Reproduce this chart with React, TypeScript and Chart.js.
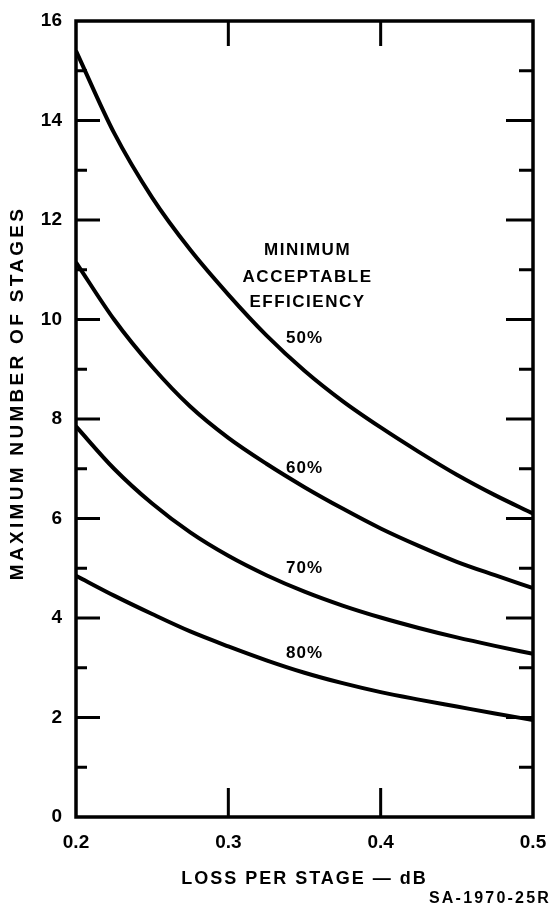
import React, { useEffect, useRef } from 'react';
import { Chart, registerables } from 'chart.js';

Chart.register(...registerables);

// ---- data ----
const lossPerStage = [0.2, 0.225, 0.25, 0.275, 0.3, 0.325, 0.35, 0.375, 0.4, 0.425, 0.45, 0.475, 0.5];
const stages50 = [15.4, 13.75, 12.45, 11.4, 10.5, 9.68, 8.97, 8.36, 7.83, 7.34, 6.88, 6.47, 6.1];
const stages60 = [11.15, 10.0, 9.05, 8.25, 7.62, 7.1, 6.63, 6.2, 5.8, 5.45, 5.13, 4.86, 4.6];
const stages70 = [7.85, 7.0, 6.3, 5.72, 5.25, 4.86, 4.53, 4.25, 4.01, 3.8, 3.61, 3.44, 3.28];
const stages80 = [4.85, 4.45, 4.08, 3.73, 3.43, 3.15, 2.9, 2.69, 2.51, 2.36, 2.22, 2.08, 1.95];
const efficiencyLabels = ['50%', '60%', '70%', '80%'];
const headerLines = ['MINIMUM', 'ACCEPTABLE', 'EFFICIENCY'];
const xTicks = [0.2, 0.3, 0.4, 0.5];
const yTicks = [0, 2, 4, 6, 8, 10, 12, 14, 16];
const xTitle = 'LOSS PER STAGE \u2014 dB';
const yTitle = 'MAXIMUM NUMBER OF STAGES';
const figureCode = 'SA-1970-25R';

// label anchor positions in data units (kept apart from the data)
const headerAnchorX = 0.352;
const headerAnchorY = [11.4, 10.85, 10.35];
const effLabelX = 0.35;
const effLabelY = [9.63, 7.01, 5.0, 3.3];

const FONT = '"Liberation Sans", Arial, Helvetica, sans-serif';
const W = 551;
const H = 917;

export default function App() {
  const ref = useRef<HTMLCanvasElement>(null);

  useEffect(() => {
    const canvas = ref.current;
    if (!canvas) return;

    const framePlugin = {
      id: 'frameAndNotes',
      beforeDraw(chart: any) {
        chart.ctx.letterSpacing = '2px';
      },
      beforeDatasetsDraw(chart: any) {
        chart.ctx.letterSpacing = '0px';
      },
      afterDatasetsDraw(chart: any) {
        const { ctx, chartArea: a, scales } = chart;
        const x = scales.x;
        const y = scales.y;
        ctx.save();
        ctx.letterSpacing = '0px';
        ctx.strokeStyle = '#000';
        ctx.lineCap = 'butt';
        ctx.lineWidth = 3;
        const yMin = yTicks[0];
        const yMax = yTicks[yTicks.length - 1];
        for (let v = yMin + 1; v < yMax; v++) {
          const py = y.getPixelForValue(v);
          const major = yTicks.includes(v);
          const lenL = major ? 24 : 11;
          const lenR = major ? 27 : 14;
          ctx.beginPath();
          ctx.moveTo(a.left, py);
          ctx.lineTo(a.left + lenL, py);
          ctx.moveTo(a.right, py);
          ctx.lineTo(a.right - lenR, py);
          ctx.stroke();
        }
        for (const v of xTicks.slice(1, -1)) {
          const px = x.getPixelForValue(v);
          ctx.beginPath();
          ctx.moveTo(px, a.bottom);
          ctx.lineTo(px, a.bottom - 29);
          ctx.moveTo(px, a.top);
          ctx.lineTo(px, a.top + 25);
          ctx.stroke();
        }
        ctx.lineWidth = 3.5;
        ctx.strokeRect(a.left, a.top, a.right - a.left, a.bottom - a.top);

        ctx.fillStyle = '#000';
        ctx.textAlign = 'center';
        ctx.textBaseline = 'middle';
        ctx.font = `bold 17px ${FONT}`;
        ctx.letterSpacing = '1.5px';
        headerLines.forEach((t, i) => {
          ctx.fillText(t, x.getPixelForValue(headerAnchorX), y.getPixelForValue(headerAnchorY[i]));
        });
        ctx.letterSpacing = '1px';
        efficiencyLabels.forEach((t, i) => {
          ctx.fillText(t, x.getPixelForValue(effLabelX), y.getPixelForValue(effLabelY[i]));
        });
        ctx.restore();
      },
      afterDraw(chart: any) {
        const { ctx } = chart;
        ctx.save();
        ctx.fillStyle = '#000';
        ctx.textBaseline = 'middle';
        ctx.font = `bold 19px ${FONT}`;
        ctx.letterSpacing = '3.3px';
        ctx.textAlign = 'center';
        ctx.translate(18, 393);
        ctx.rotate(-Math.PI / 2);
        ctx.fillText(yTitle, 0, 0);
        ctx.setTransform(1, 0, 0, 1, 0, 0);
        ctx.font = `bold 16px ${FONT}`;
        ctx.letterSpacing = '2.2px';
        ctx.textAlign = 'right';
        ctx.fillText(figureCode, chart.width, 899);
        ctx.restore();
      },
    };

    const mk = (label: string, data: number[]) => ({
      label,
      data: lossPerStage.map((v, i) => ({ x: v, y: data[i] })),
      borderColor: '#000',
      backgroundColor: '#000',
      borderWidth: 4,
      pointRadius: 0,
      cubicInterpolationMode: 'monotone' as const,
      fill: false,
    });

    const chart = new Chart(canvas, {
      type: 'line',
      data: {
        datasets: [
          mk(efficiencyLabels[0], stages50),
          mk(efficiencyLabels[1], stages60),
          mk(efficiencyLabels[2], stages70),
          mk(efficiencyLabels[3], stages80),
        ],
      },
      options: {
        animation: false,
        responsive: false,
        devicePixelRatio: 1,
        layout: { padding: { top: 21, right: 18, left: 0, bottom: 0 } },
        plugins: { legend: { display: false }, tooltip: { enabled: false } },
        scales: {
          x: {
            type: 'linear',
            min: xTicks[0],
            max: xTicks[xTicks.length - 1],
            afterBuildTicks: (s: any) => {
              s.ticks = xTicks.map((v) => ({ value: v }));
            },
            afterFit: (s: any) => {
              s.height = 100;
              s.paddingLeft = 0;
              s.paddingRight = 0;
              s.paddingTop = 0;
              s.paddingBottom = 0;
            },
            grid: { display: false, drawTicks: false },
            border: { display: false },
            ticks: {
              z: 1,
              autoSkip: false,
              maxRotation: 0,
              padding: 14,
              color: '#000',
              font: { family: FONT, size: 19, weight: 'bold' },
              callback: (v: any) => Number(v).toFixed(1),
            },
            title: {
              display: true,
              text: xTitle,
              color: '#000',
              font: { family: FONT, size: 18, weight: 'bold' },
              padding: { top: 0, bottom: 27 },
            },
          },
          y: {
            type: 'linear',
            min: yTicks[0],
            max: yTicks[yTicks.length - 1],
            afterBuildTicks: (s: any) => {
              s.ticks = yTicks.map((v) => ({ value: v }));
            },
            afterFit: (s: any) => {
              s.width = 76;
              s.paddingLeft = 0;
              s.paddingRight = 0;
              s.paddingTop = 0;
              s.paddingBottom = 0;
            },
            grid: { display: false, drawTicks: false },
            border: { display: false },
            ticks: {
              z: 1,
              padding: 14,
              color: '#000',
              font: { family: FONT, size: 19, weight: 'bold' },
              callback: (v: any) => String(v),
            },
            title: { display: false, text: yTitle },
          },
        },
      },
      plugins: [framePlugin],
    } as any);

    return () => chart.destroy();
  }, []);

  return (
    <div style={{ position: 'fixed', left: 0, top: 0, width: W, height: H }}>
      <canvas ref={ref} width={W} height={H} style={{ display: 'block', width: W, height: H }} />
    </div>
  );
}
